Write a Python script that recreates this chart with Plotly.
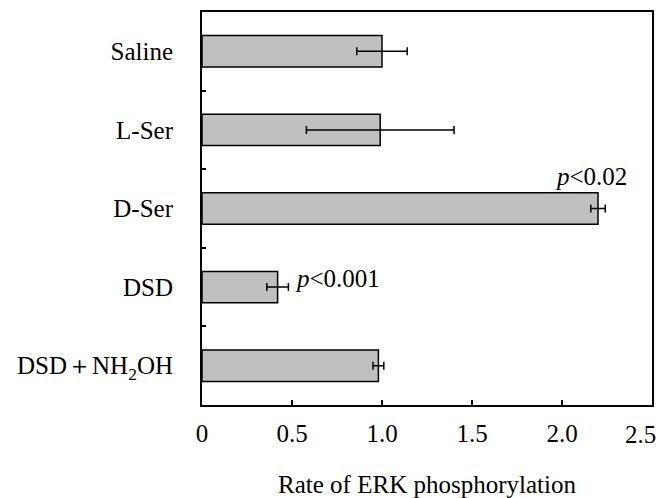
import plotly.graph_objects as go

categories = ["Saline", "L-Ser", "D-Ser", "DSD", "DSD＋NH<sub>2</sub>OH"]
values = [1.00, 0.99, 2.20, 0.42, 0.98]
errors = [0.14, 0.41, 0.04, 0.06, 0.03]
x_ticks = [0, 0.5, 1.0, 1.5, 2.0, 2.5]
x_ticktext = ["0", "0.5", "1.0", "1.5", "2.0", "2.5"]
annotations_text = [("D-Ser", 2.16, "<i>p</i><0.02", 32), ("DSD", 0.75, "<i>p</i><0.001", 9)]

FONT = "Liberation Serif, Times New Roman, serif"

fig = go.Figure()
fig.add_trace(go.Bar(
    y=categories, x=values, orientation="h", width=0.4,
    marker=dict(color="#c0c0c0", line=dict(color="black", width=1.5)),
    error_x=dict(type="data", array=errors, visible=True, color="black", thickness=1.5, width=4),
))

for cat, xv, txt, ys in annotations_text:
    fig.add_annotation(x=xv, y=cat, text=txt, showarrow=False, yshift=ys,
                       font=dict(family=FONT, size=25, color="black"))

# last tick label is nudged left so it stays inside the page
shown_ticktext = x_ticktext[:-1] + [""]
fig.add_annotation(x=x_ticks[-1], xref="x", y=0, yref="paper", text=x_ticktext[-1],
                   showarrow=False, yanchor="middle", yshift=-29, xshift=-12,
                   font=dict(family=FONT, size=25, color="black"))

fig.update_layout(
    width=662, height=498,
    margin=dict(l=202, r=10, t=12, b=93),
    plot_bgcolor="white", paper_bgcolor="white",
    font=dict(family=FONT, size=25, color="black"),
    showlegend=False,
    bargap=0.6,
)
fig.update_xaxes(
    range=[0, 2.5], tickvals=x_ticks, ticktext=shown_ticktext,
    showline=True, mirror=True, linecolor="black", linewidth=2,
    ticks="inside", ticklen=5, tickcolor="black", tickwidth=1.5,
    showgrid=False, zeroline=False, ticklabelstandoff=5,
    automargin=False,
    title=dict(text="Rate of ERK phosphorylation", standoff=46, font=dict(size=25)),
    tickfont=dict(size=25),
)
fig.update_yaxes(
    categoryorder="array", categoryarray=categories, autorange="reversed",
    showline=True, mirror=True, linecolor="black", linewidth=2,
    ticks="inside", ticklen=4, tickcolor="black", tickwidth=1.5, tickson="boundaries",
    showgrid=False, zeroline=False, ticklabelstandoff=22, automargin=False,
    tickfont=dict(size=25),
)

fig.write_html("out.html")
